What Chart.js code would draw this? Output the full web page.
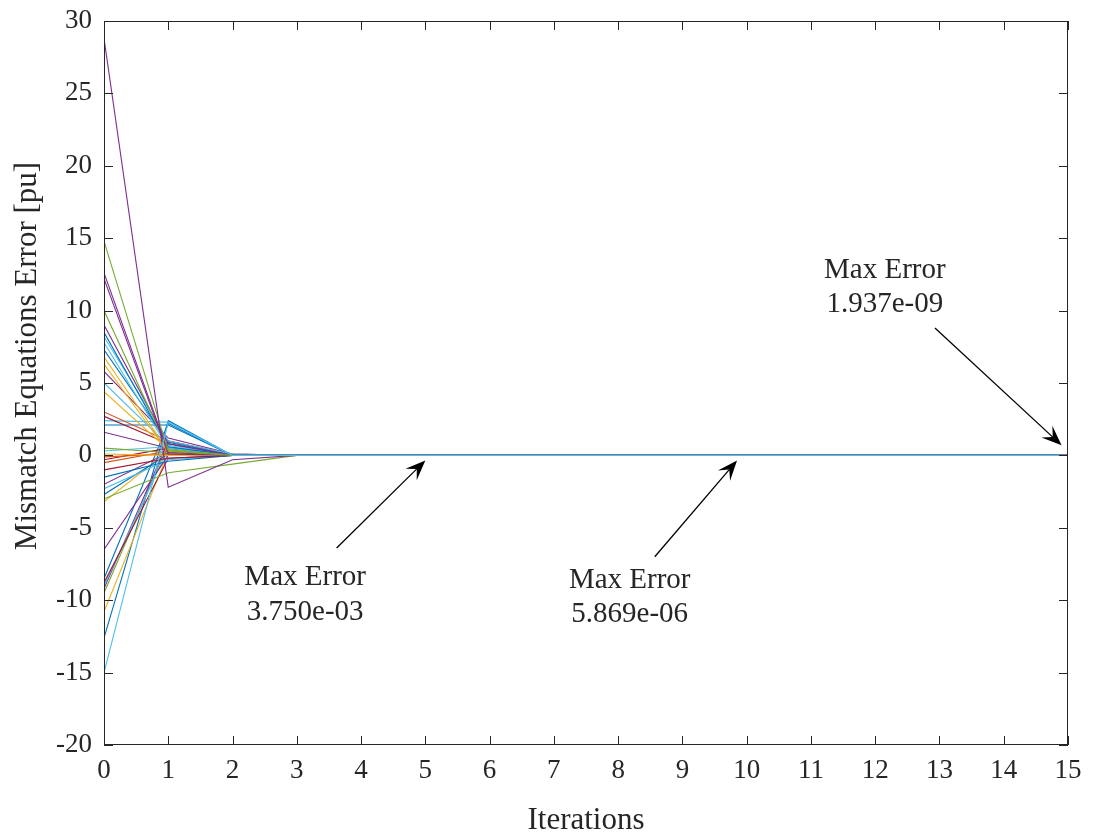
<!DOCTYPE html>
<html>
<head>
<meta charset="utf-8">
<script src="https://cdn.jsdelivr.net/npm/chart.js@4.4.1/dist/chart.umd.min.js"></script>
<style>
  html, body { margin: 0; padding: 0; background: #fff; }
  #box { width: 1095px; height: 839px; }
</style>
</head>
<body>
<div id="box"><canvas id="grafico"></canvas></div>
<script>
// iteraciones del eje x
const iteraciones = [0, 1, 2, 3, 4, 5, 6, 7, 8, 9, 10, 11, 12, 13, 14, 15];

// valor de cada curva en la iteracion 0, 1 y 2
const valoresIter0 = [-15.0, 28.8, 14.8, 12.6, 12.2, 10.0, 9.0, 8.5, 8.2, 7.8, 7.3, 6.8, 6.3, 5.8, 5.0, 4.4,
  3.0, 2.7, 2.4, 2.1, 1.6, 0.5, 0.3, 0.1, -0.1, -0.3, -0.5, -1.0, -1.5, -2.0, -2.3, -2.7, -3.0, -3.2,
  -6.5, -8.5, -8.8, -9.0, -9.2, -9.5, -10.8, -12.6];
const valoresIter1 = [2.3, -2.2, 0.3, 0.2, 0.1, 0.4, 0.8, 0.6, 1.0, 0.5, 0.9, 0.3, 0.2, 1.2, 0.7, 0.4,
  1.0, 0.8, 2.3, 2.1, 0.5, 0.2, 0.6, 0.0, 0.1, 0.5, 0.3, -0.2, -0.4, 0.2, -0.3, 0.1, -1.2, 0.3,
  0.0, 2.2, -0.2, 0.5, 1.0, 0.8, 0.2, 2.4];
const valoresIter2 = [0.0, -0.3, 0.0, 0.0, 0.0, 0.0, 0.0, 0.0, 0.1, 0.0, 0.0, 0.0, 0.0, 0.1, 0.0, 0.0,
  0.1, 0.0, 0.0, 0.0, 0.0, 0.0, 0.0, 0.0, 0.0, 0.0, 0.0, 0.0, 0.0, 0.0, 0.0, 0.0, -0.6, 0.0,
  0.0, 0.0, 0.0, 0.0, 0.0, 0.0, 0.0, 0.0];
// de la iteracion 3 a la 15 todas las curvas quedan en cero
const valoresCola = [0, 0, 0, 0, 0, 0, 0, 0, 0, 0, 0, 0, 0];

// colores por defecto de MATLAB, uno por curva
const azul = "#0072BD", naranjo = "#D95319", amarillo = "#EDB120", morado = "#7E2F8E",
  verde = "#77AC30", celeste = "#4DBEEE", rojo = "#A2142F";
const colores = [celeste, morado, verde, morado, morado, verde, morado, azul, celeste, celeste, azul, amarillo,
  amarillo, morado, celeste, amarillo, naranjo, rojo, celeste, azul, morado, verde, celeste, amarillo,
  naranjo, rojo, naranjo, rojo, azul, morado, celeste, azul, verde, amarillo, morado, azul, rojo,
  celeste, morado, verde, amarillo, azul];

// anotaciones: texto, posicion del texto y flecha (en unidades de los ejes)
const anotaciones = [
  { texto: ["Max Error", "3.750e-03"], x: 3.13, y: -8.45, y2: -10.85, desde: [3.62, -6.4], hasta: [5.0, -0.35] },
  { texto: ["Max Error", "5.869e-06"], x: 8.18, y: -8.6, y2: -11.0, desde: [8.57, -7.0], hasta: [9.85, -0.35] },
  { texto: ["Max Error", "1.937e-09"], x: 12.15, y: 12.8, y2: 10.4, desde: [12.93, 8.8], hasta: [14.9, 0.7] }
];

const tituloY = "Mismatch Equations Error [pu]";
const fuente = "'Liberation Serif', 'DejaVu Serif', serif";

const datasets = valoresIter0.map((v0, i) => ({
  label: "curva " + (i + 1),
  data: [v0, valoresIter1[i], valoresIter2[i], ...valoresCola].map((y, k) => ({ x: iteraciones[k], y: y })),
  borderColor: colores[i],
  borderWidth: 1.1,
  pointRadius: 0,
  tension: 0,
  fill: false
}));

// caja con marcas hacia adentro (estilo MATLAB), titulo del eje y, anotaciones
const cajaPlugin = {
  id: "caja",
  afterDraw(chart) {
    const ctx = chart.ctx;
    const a = chart.chartArea;
    const sx = chart.scales.x, sy = chart.scales.y;
    ctx.save();
    ctx.strokeStyle = "#262626";
    ctx.lineWidth = 1;
    ctx.strokeRect(a.left + 0.5, a.top + 0.5, a.right - a.left - 1, a.bottom - a.top - 1);
    const largo = 9;
    ctx.beginPath();
    sx.ticks.forEach(t => {
      const px = Math.round(sx.getPixelForValue(t.value)) + 0.5;
      ctx.moveTo(px, a.bottom); ctx.lineTo(px, a.bottom - largo);
      ctx.moveTo(px, a.top); ctx.lineTo(px, a.top + largo);
    });
    sy.ticks.forEach(t => {
      const py = Math.round(sy.getPixelForValue(t.value)) + 0.5;
      ctx.moveTo(a.left, py); ctx.lineTo(a.left + largo, py);
      ctx.moveTo(a.right, py); ctx.lineTo(a.right - largo, py);
    });
    ctx.stroke();

    // titulo del eje y (un poco sobre el centro, como en el original)
    ctx.fillStyle = "#262626";
    ctx.font = "31px " + fuente;
    ctx.textAlign = "center";
    ctx.textBaseline = "middle";
    ctx.save();
    ctx.translate(28, 356);
    ctx.rotate(-Math.PI / 2);
    ctx.fillText(tituloY, 0, 0);
    ctx.restore();

    // anotaciones con flecha
    ctx.font = "29px " + fuente;
    anotaciones.forEach(an => {
      const tx = sx.getPixelForValue(an.x);
      ctx.fillStyle = "#262626";
      ctx.fillText(an.texto[0], tx, sy.getPixelForValue(an.y));
      ctx.fillText(an.texto[1], tx, sy.getPixelForValue(an.y2));
      const x1 = sx.getPixelForValue(an.desde[0]), y1 = sy.getPixelForValue(an.desde[1]);
      const x2 = sx.getPixelForValue(an.hasta[0]), y2 = sy.getPixelForValue(an.hasta[1]);
      const ang = Math.atan2(y2 - y1, x2 - x1);
      const L = 20, W = 8;
      const c = Math.cos(ang), s = Math.sin(ang);
      ctx.strokeStyle = "#000";
      ctx.lineWidth = 1.3;
      ctx.beginPath();
      ctx.moveTo(x1, y1);
      ctx.lineTo(x2 - c * L * 0.6, y2 - s * L * 0.6);
      ctx.stroke();
      ctx.fillStyle = "#000";
      ctx.beginPath();
      ctx.moveTo(x2, y2);
      ctx.lineTo(x2 - c * L - s * W, y2 - s * L + c * W);
      ctx.lineTo(x2 - c * L * 0.6, y2 - s * L * 0.6);
      ctx.lineTo(x2 - c * L + s * W, y2 - s * L - c * W);
      ctx.closePath();
      ctx.fill();
    });
    ctx.restore();
  }
};

const ctx = document.getElementById("grafico").getContext("2d");
window.miGrafico = new Chart(ctx, {
  type: "line",
  data: { datasets: datasets },
  options: {
    responsive: true,
    maintainAspectRatio: false,
    animation: false,
    layout: { padding: { left: 0, top: 21, right: 27, bottom: 0 } },
    plugins: { legend: { display: false }, tooltip: { enabled: false } },
    scales: {
      x: {
        type: "linear",
        min: 0,
        max: 15,
        grid: { display: false, drawTicks: false },
        border: { display: false },
        ticks: { stepSize: 1, padding: 10, color: "#262626", font: { family: fuente, size: 27 } },
        title: { display: true, text: "Iterations", color: "#262626", padding: { top: 0, bottom: 0 },
          font: { family: fuente, size: 31 } },
        afterFit: (escala) => { escala.height = 94; escala.paddingLeft = 0; escala.paddingRight = 0; }
      },
      y: {
        min: -20,
        max: 30,
        grid: { display: false, drawTicks: false },
        border: { display: false },
        ticks: { stepSize: 5, padding: 12, color: "#262626", font: { family: fuente, size: 27 } },
        title: { display: false },
        afterFit: (escala) => { escala.width = 104; escala.paddingTop = 0; escala.paddingBottom = 0; }
      }
    }
  },
  plugins: [cajaPlugin]
});
</script>
</body>
</html>
